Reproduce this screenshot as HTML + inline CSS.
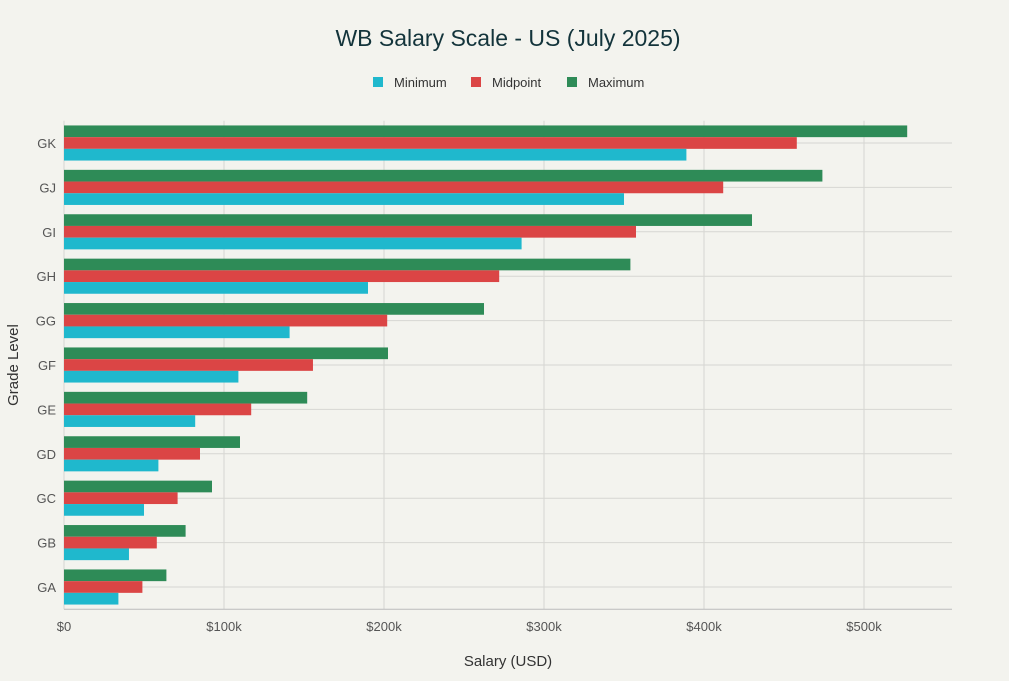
<!DOCTYPE html>
<html><head><meta charset="utf-8"><style>
body{margin:0;background:#F3F3EE;font-family:"Liberation Sans",sans-serif;}
svg text{font-family:"Liberation Sans",sans-serif;}
</style></head><body>
<svg id="c" width="1009" height="676">
<rect width="1009" height="676" fill="#F3F3EE"/>
<text x="508" y="46" text-anchor="middle" font-size="23" fill="#13343B">WB Salary Scale - US (July 2025)</text>
<g font-size="13" fill="#333">
<rect x="373" y="77" width="10" height="10" fill="#1FB8CD"/><text x="394" y="87">Minimum</text>
<rect x="471" y="77" width="10" height="10" fill="#DB4545"/><text x="492" y="87">Midpoint</text>
<rect x="567" y="77" width="10" height="10" fill="#2E8B57"/><text x="588" y="87">Maximum</text>
</g>
<g id="grid"></g><g id="bars"></g><g id="axes"></g>
<text x="508" y="666" text-anchor="middle" font-size="15" fill="#333">Salary (USD)</text>
<text x="0" y="0" transform="translate(18,365) rotate(-90)" text-anchor="middle" font-size="15" fill="#333">Grade Level</text>
</svg>
<script>
const categories=["GA","GB","GC","GD","GE","GF","GG","GH","GI","GJ","GK"];
const minimum=[34,40.6,50,59,82,109,141,190,286,350,389];
const midpoint=[49,58,71,85,117,155.6,202,272,357.5,412,458];
const maximum=[64,76,92.5,110,152,202.5,262.5,354,430,474,527];
const xTicks=[0,100,200,300,400,500];
const xTickLabels=["$0","$100k","$200k","$300k","$400k","$500k"];
const NS="http://www.w3.org/2000/svg";
const L=64,R=952,T=120.8,B=609.2;
const x=v=>L+v*1.6;
const band=(B-T)/categories.length;
const yc=i=>B-band*(i+0.5);
function mk(tag,at,parent){const e=document.createElementNS(NS,tag);for(const k in at)e.setAttribute(k,at[k]);document.getElementById(parent).appendChild(e);return e;}
xTicks.forEach((t,i)=>{
 const g=mk("line",{x1:x(t),x2:x(t),y1:T,y2:B,stroke:"#d6d6d2","stroke-width":1},"grid");
 
 
 const tx=mk("text",{x:x(t),y:B+22,"text-anchor":"middle","font-size":13,fill:"#555"},"axes");
 tx.textContent=xTickLabels[i];
 
 
});
const bh=11.7;
categories.forEach((c,i)=>{
 const yy=yc(i);
 const g=mk("line",{x1:L,x2:R,y1:yy,y2:yy,stroke:"#d6d6d2","stroke-width":1},"grid");
 
 
 const tx=mk("text",{x:L-8,y:yy+5,"text-anchor":"end","font-size":13,fill:"#555"},"axes");
 tx.textContent=c;
 
 
 [[maximum,"#2E8B57",-1.5,"max"],[midpoint,"#DB4545",-0.5,"mid"],[minimum,"#1FB8CD",0.5,"min"]].forEach(([arr,col,o,n])=>{
  const r=mk("rect",{x:L,y:yy+o*bh,width:x(arr[i])-L,height:bh,fill:col},"bars");
  
  
 });
});
const ax=mk("line",{x1:L,x2:R,y1:B,y2:B,stroke:"#bbb","stroke-width":1},"axes");


</script>
</body></html>
